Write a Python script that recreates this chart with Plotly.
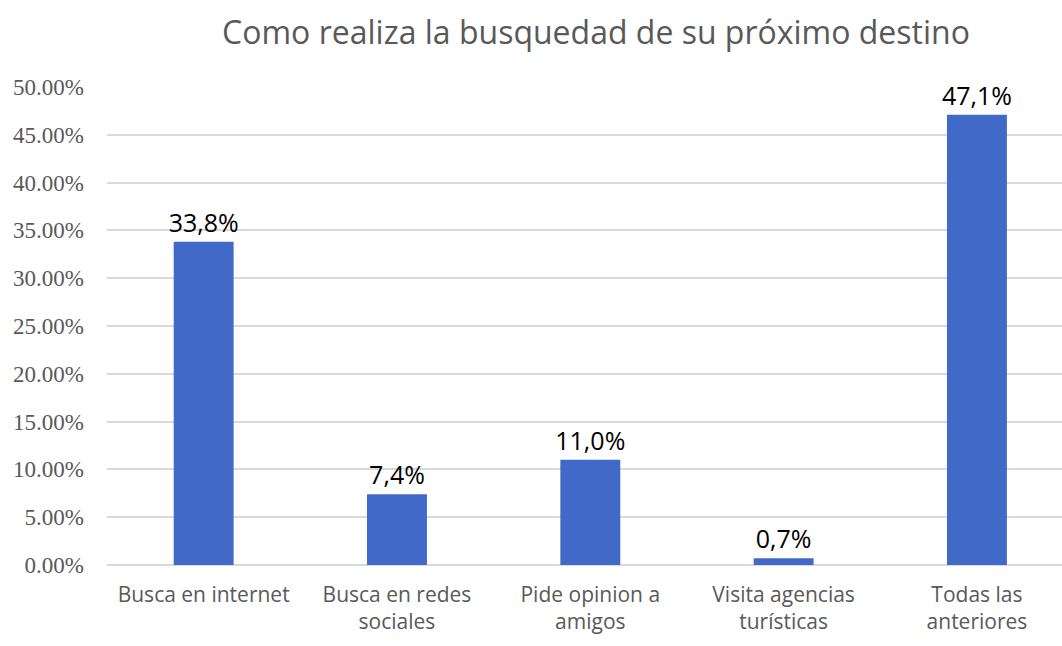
import plotly.graph_objects as go

# Survey results: how respondents search for their next destination
categories = [
    "Busca en internet",
    "Busca en redes<br>sociales",
    "Pide opinion a<br>amigos",
    "Visita agencias<br>turísticas",
    "Todas las<br>anteriores",
]
values = [33.8, 7.4, 11.0, 0.7, 47.1]
labels = ["33,8%", "7,4%", "11,0%", "0,7%", "47,1%"]
y_ticks = [0, 5, 10, 15, 20, 25, 30, 35, 40, 45, 50]
y_tick_text = [f"{v:.2f}%" for v in y_ticks]

fig = go.Figure(
    go.Bar(
        x=list(range(len(categories))),
        y=values,
        text=labels,
        textposition="outside",
        constraintext="none",
        textfont=dict(family="Open Sans", size=25, color="#000000"),
        marker=dict(color="#4169c8", line=dict(width=0)),
        width=0.31,
        cliponaxis=False,
    )
)

fig.update_layout(
    width=1062,
    height=646,
    margin=dict(l=107, r=0, t=87, b=81),
    paper_bgcolor="white",
    plot_bgcolor="white",
    showlegend=False,
    title=dict(
        text="Como realiza la busquedad de su próximo destino",
        x=596 / 1062,
        xanchor="center",
        y=1 - 33 / 646,
        yanchor="middle",
        font=dict(family="Open Sans", size=32, color="#595959"),
    ),
    xaxis=dict(
        range=[-0.5, 4.44],
        tickvals=list(range(len(categories))),
        ticktext=categories,
        tickfont=dict(family="Open Sans", size=21, color="#595959"),
        showgrid=False,
        zeroline=False,
        showline=False,
        ticks="",
        ticklabelstandoff=15,
    ),
    yaxis=dict(
        range=[0, 50],
        tickvals=y_ticks,
        ticktext=y_tick_text,
        tickfont=dict(family="Liberation Serif", size=23, color="#595959"),
        showgrid=True,
        gridcolor="#d9d9d9",
        gridwidth=2,
        zeroline=True,
        zerolinecolor="#d9d9d9",
        zerolinewidth=2,
        showline=False,
        ticks="",
        ticklabelstandoff=22,
    ),
)

fig.write_html("out.html")
